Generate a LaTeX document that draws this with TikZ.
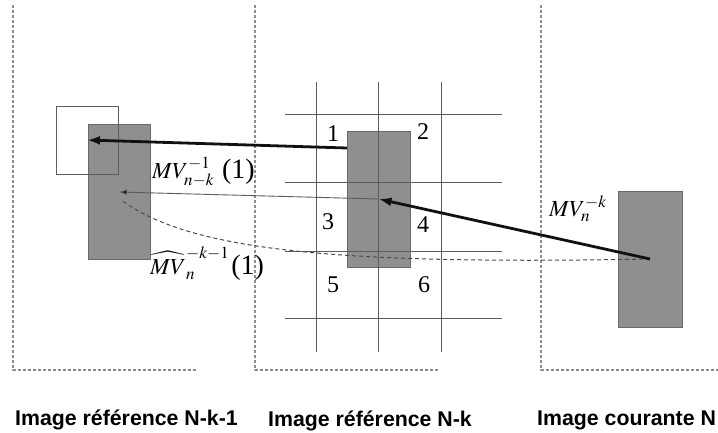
\documentclass[tikz,border=0pt]{standalone}
\usepackage{mathptmx}
\usepackage[no-math]{fontspec}
\setmainfont{Liberation Serif}
\newfontfamily\capfont{Liberation Sans}
\usetikzlibrary{arrows.meta}
\definecolor{ShadeGray}{HTML}{8F8F8F}
\definecolor{ShadeEdge}{HTML}{6A6A6A}
\definecolor{GridGray}{HTML}{5C5C5C}
\definecolor{FrameGray}{HTML}{8C8C8C}
\definecolor{CurveGray}{HTML}{4A4A4A}
\definecolor{InkBlack}{HTML}{111111}
\newcommand{\bigone}{{\fontsize{28}{28}\selectfont(1)}}
\tikzset{
  framedash/.style={draw=FrameGray,line width=1.2pt,dash pattern=on 3pt off 2pt},
  shadebox/.style={draw=ShadeEdge,fill=ShadeGray,line width=0.8pt,
              minimum width=62pt,minimum height=135pt,inner sep=0pt},
  winbox/.style={draw=GridGray,line width=0.9pt,minimum width=62pt,
              minimum height=68pt,inner sep=0pt},
  gridline/.style={draw=GridGray,line width=0.9pt},
  bigflow/.style={-{Latex[length=13pt,width=9pt]},line width=2.8pt,draw=InkBlack},
  thinflow/.style={-{Latex[length=8pt,width=6pt,fill=InkBlack]},line width=0.9pt,draw=GridGray},
  guess/.style={draw=CurveGray,line width=1pt,dash pattern=on 4pt off 3pt},
  numtext/.style={font=\fontsize{24}{24}\selectfont,inner sep=0pt},
  mvtext/.style={font=\fontsize{23}{23}\selectfont,inner sep=0pt,anchor=base west},
  caption/.style={font=\capfont\bfseries\fontsize{21.3}{24}\selectfont,
              inner sep=0pt,anchor=base west}
}
\begin{document}
\begin{tikzpicture}[x=1pt,y=-1pt]
  \useasboundingbox (0,0) rectangle (718,432);

  % the three images
  \draw[framedash] (13,5) -- (13,370) -- (197,370);
  \draw[framedash] (255,5) -- (255,370) -- (438,370);
  \draw[framedash] (541,5) -- (541,370) -- (718,370);

  % reference N-k-1
  \node[shadebox] (blockA) at (119,192) {};
  \node[winbox] (searchwin) at (87,140) {};
  \coordinate (hatend) at (121,200);

  % reference N-k with its block grid
  \node[shadebox,minimum width=63pt,minimum height=136pt] (blockB) at (378.5,199) {};
  \draw[gridline] (316,82) -- (316,352);
  \draw[gridline] (378,82) -- (378,352);
  \draw[gridline] (441,82) -- (441,352);
  \draw[gridline] (285,114) -- (502,114);
  \draw[gridline] (285,182) -- (502,182);
  \draw[gridline] (285,251) -- (502,251);
  \draw[gridline] (285,318) -- (502,318);
  \coordinate (cellone) at (347,148);
  \node[numtext] (numone) at (333,134) {1};
  \node[numtext] (numtwo) at (423,132) {2};
  \node[numtext] (numthree) at (328,222) {3};
  \node[numtext] (numfour) at (423,225) {4};
  \node[numtext] (numfive) at (333,285) {5};
  \node[numtext] (numsix) at (424,285) {6};

  % current image N
  \node[shadebox,minimum width=64pt,minimum height=136pt] (blockC) at (650,259) {};

  \draw[guess] (blockC.center) .. controls (330,265) and (190,250) .. (hatend);
  \draw[thinflow] (blockB.center) -- (blockA.center);
  \draw[bigflow] (cellone) -- (searchwin.center);
  \draw[bigflow] (blockC.center) -- (blockB.center);

  \node[mvtext] (mvprev) at (152,178) {$MV_{n-k}^{-1}$\hspace{8pt}\bigone};
  \node[mvtext] (mvhat) at (150,274) {${\widehat{MV}_{n}}^{-k-1}$\hspace{2pt}\bigone};
  \node[mvtext] (mvcur) at (549,216) {$MV_n^{-k}$};

  \node[caption] (capA) at (15,425) {Image référence N-k-1};
  \node[caption] (capB) at (268,426) {Image référence N-k};
  \node[caption] (capC) at (537,425) {Image courante N};
\end{tikzpicture}
\end{document}
